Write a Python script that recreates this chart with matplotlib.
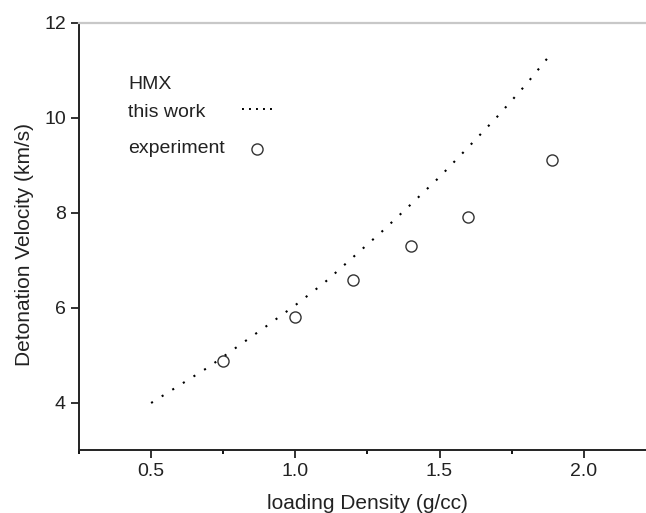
import matplotlib

matplotlib.use("Agg")
import matplotlib.pyplot as plt
from matplotlib.ticker import MultipleLocator

plt.rcParams["font.family"] = ["Liberation Sans", "DejaVu Sans"]

# model curve ("this work")
model_density = [0.5, 0.6, 0.7, 0.8, 0.9, 1.0, 1.1, 1.2, 1.3, 1.4, 1.5, 1.6, 1.7, 1.8, 1.89]
model_velocity = [3.99, 4.37, 4.75, 5.18, 5.61, 6.05, 6.52, 7.06, 7.60, 8.17, 8.75, 9.38,
                  10.02, 10.70, 11.37]

# experimental points
exp_density = [0.75, 1.0, 1.2, 1.4, 1.6, 1.89]
exp_velocity = [4.88, 5.80, 6.58, 7.30, 7.90, 9.10]

x_ticks = [0.5, 1.0, 1.5, 2.0]
y_ticks = [4, 6, 8, 10, 12]

INK = "#222222"
DOTS = (0, (1, 5.0))

fig = plt.figure(figsize=(6.46, 5.13), dpi=100)
ax = fig.add_axes([0.1223, 0.1228, 0.893, 0.833])

ax.plot(model_density, model_velocity, color="black", lw=1.5, linestyle=DOTS)
ax.plot(exp_density, exp_velocity, linestyle="none", marker="o", ms=8,
        mfc="white", mec="#333333", mew=1.0)

ax.set_xlim(0.25, 2.25)
ax.set_ylim(3, 12)
ax.set_xticks(x_ticks)
ax.set_xticklabels([f"{v:.1f}" for v in x_ticks])
ax.set_yticks(y_ticks)
ax.xaxis.set_minor_locator(MultipleLocator(0.25))

ax.tick_params(axis="both", which="major", direction="out", length=6, width=1.3,
               labelsize=14, colors=INK)
ax.tick_params(axis="x", which="minor", direction="out", length=3, width=1.3)
ax.tick_params(axis="y", which="minor", left=False)

for side in ("left", "bottom"):
    ax.spines[side].set_linewidth(1.4)
    ax.spines[side].set_color(INK)
ax.spines["top"].set_color("#c8c8c8")
ax.spines["top"].set_linewidth(1.6)
ax.spines["right"].set_visible(False)

ax.set_xlabel("loading Density (g/cc)", fontsize=15, color=INK, labelpad=10)
ax.set_ylabel("Detonation Velocity (km/s)", fontsize=15, color=INK)
ax.yaxis.set_label_coords(-0.078, 0.48)

# hand-built legend block, top left
tx = 0.085
ax.text(tx, 0.855, "HMX", transform=ax.transAxes, fontsize=14, va="center", color=INK)
ax.text(tx, 0.79, "this work", transform=ax.transAxes, fontsize=14, va="center", color=INK)
ax.text(tx, 0.705, "experiment", transform=ax.transAxes, fontsize=14, va="center", color=INK)
ax.plot([0.282, 0.343], [0.797, 0.797], transform=ax.transAxes, color="black", lw=1.4,
        linestyle=(0, (1, 2.6)))
ax.plot([0.309], [0.705], transform=ax.transAxes, linestyle="none", marker="o", ms=8,
        mfc="white", mec="#333333", mew=1.0)

fig.savefig("out.png", dpi=100)
